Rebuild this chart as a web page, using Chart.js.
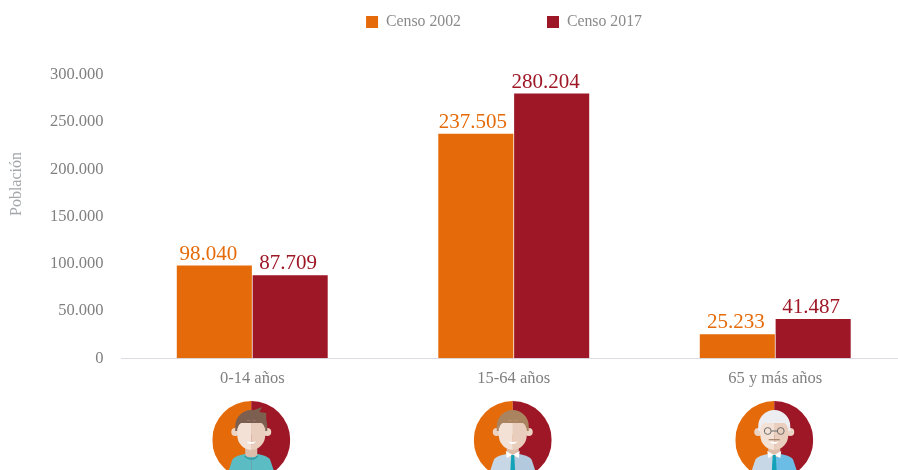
<!DOCTYPE html>
<html lang="es">
<head>
<meta charset="utf-8">
<title>Población por grupos de edad</title>
<script src="https://cdn.jsdelivr.net/npm/chart.js@4"></script>
<style>
    html, body { margin: 0; padding: 0; background: #fff; overflow: hidden; }
    #wrap { width: 898px; height: 470px; overflow: hidden; }
    canvas { display: block; }
</style>
</head>
<body>
<div id="wrap"><canvas id="barChart" width="906" height="470"></canvas></div>
<script>
const categories = ['0-14 años', '15-64 años', '65 y más años'];
const censo2002 = [98040, 237505, 25233];
const censo2017 = [87709, 280204, 41487];
const labels2002 = ['98.040', '237.505', '25.233'];
const labels2017 = ['87.709', '280.204', '41.487'];
const tickLabels = ['0', '50.000', '100.000', '150.000', '200.000', '250.000', '300.000'];

const ORANGE = '#e56b0a';
const RED = '#9e1726';
const SERIF = '"Liberation Serif", "Times New Roman", serif';

// One look per age group, same order as categories
const people = [
    { hair: '#7d5f4f', shirtL: '#5bbcc4', shirtR: '#5bbcc4', young: true },
    { hair: '#a9845f', shirtL: '#c7d7e5', shirtR: '#b2c9de' },
    { hair: '#eceef2', shirtL: '#c7d7e5', shirtR: '#6bbde6', old: true }
];

const drawPerson = (ctx, cx, cy, p) => {
    ctx.save();
    ctx.beginPath();
    ctx.arc(cx, cy, 39, 0, Math.PI * 2);
    ctx.clip();
    ctx.fillStyle = ORANGE;
    ctx.fillRect(cx - 39, cy - 39, 39, 78);
    ctx.fillStyle = RED;
    ctx.fillRect(cx, cy - 39, 39, 78);

    // shoulders
    ctx.fillStyle = p.shirtL;
    ctx.beginPath();
    ctx.moveTo(cx, cy + 13);
    ctx.quadraticCurveTo(cx - 17, cy + 15, cx - 19, cy + 20);
    ctx.lineTo(cx - 23, cy + 32);
    ctx.lineTo(cx, cy + 32);
    ctx.fill();
    ctx.fillStyle = p.shirtR;
    ctx.beginPath();
    ctx.moveTo(cx, cy + 13);
    ctx.quadraticCurveTo(cx + 17, cy + 15, cx + 19, cy + 20);
    ctx.lineTo(cx + 23, cy + 32);
    ctx.lineTo(cx, cy + 32);
    ctx.fill();

    // neck
    ctx.fillStyle = '#dcbcab';
    ctx.fillRect(cx - 6, cy + 5, 12, 12);

    if (p.young) {
        ctx.strokeStyle = '#2f9ea8';
        ctx.lineWidth = 1.5;
        ctx.beginPath();
        ctx.arc(cx, cy + 11, 8, 0.2 * Math.PI, 0.8 * Math.PI);
        ctx.stroke();
    } else {
        ctx.fillStyle = '#fff';
        ctx.beginPath();
        ctx.moveTo(cx - 7, cy + 11);
        ctx.lineTo(cx, cy + 15);
        ctx.lineTo(cx + 7, cy + 11);
        ctx.lineTo(cx + 6, cy + 18);
        ctx.lineTo(cx, cy + 15);
        ctx.lineTo(cx - 6, cy + 18);
        ctx.fill();
        ctx.fillStyle = '#12a3b8';
        ctx.beginPath();
        ctx.moveTo(cx - 1.5, cy + 15);
        ctx.lineTo(cx + 1.5, cy + 15);
        ctx.lineTo(cx + 2.5, cy + 32);
        ctx.lineTo(cx - 2.5, cy + 32);
        ctx.fill();
    }

    // ears
    ctx.fillStyle = '#ecd4c5';
    ctx.beginPath();
    ctx.arc(cx - 16, cy - 8, 4, 0, Math.PI * 2);
    ctx.arc(cx + 16, cy - 8, 4, 0, Math.PI * 2);
    ctx.fill();

    // hair cap behind the face
    ctx.fillStyle = p.hair;
    ctx.beginPath();
    ctx.ellipse(cx, cy - 14, 16, 16, 0, Math.PI, 0);
    ctx.lineTo(cx + 16, cy - 9);
    ctx.lineTo(cx - 16, cy - 9);
    ctx.fill();
    if (p.young) {
        ctx.beginPath();
        ctx.moveTo(cx - 3, cy - 28);
        ctx.lineTo(cx + 11, cy - 33);
        ctx.lineTo(cx + 8, cy - 28);
        ctx.lineTo(cx + 15, cy - 27);
        ctx.lineTo(cx + 15, cy - 15);
        ctx.fill();
    }

    // face, two tones split down the middle
    const face = (start, end, colour) => {
        ctx.fillStyle = colour;
        ctx.beginPath();
        ctx.ellipse(cx, cy - 5, 14, 15, 0, start, end);
        ctx.fill();
    };
    ctx.fillStyle = '#f3e1d5';
    ctx.fillRect(cx - 14, cy - 17, 14, 12);
    ctx.fillStyle = '#e9cdbd';
    ctx.fillRect(cx, cy - 17, 14, 12);
    face(Math.PI / 2, Math.PI * 1.5, '#f3e1d5');
    face(-Math.PI / 2, Math.PI / 2, '#e9cdbd');

    // fringe
    ctx.fillStyle = p.hair;
    ctx.beginPath();
    ctx.moveTo(cx - 14, cy - 11);
    ctx.quadraticCurveTo(cx - 12, cy - 20, cx, cy - 20);
    ctx.quadraticCurveTo(cx + 12, cy - 20, cx + 14, cy - 11);
    ctx.lineTo(cx + 15, cy - 17);
    ctx.lineTo(cx - 15, cy - 17);
    ctx.fill();

    if (p.old) {
        ctx.strokeStyle = '#6c6c6c';
        ctx.lineWidth = 1;
        ctx.beginPath();
        ctx.arc(cx - 6.5, cy - 9, 3.4, 0, Math.PI * 2);
        ctx.moveTo(cx + 9.9, cy - 9);
        ctx.arc(cx + 6.5, cy - 9, 3.4, 0, Math.PI * 2);
        ctx.moveTo(cx - 3.1, cy - 9);
        ctx.lineTo(cx + 3.1, cy - 9);
        ctx.stroke();
        ctx.fillStyle = '#a98a70';
        ctx.fillRect(cx - 5.5, cy - 1, 11, 1.3);
    }

    // smile
    ctx.fillStyle = '#fff';
    ctx.beginPath();
    ctx.moveTo(cx - 5, cy + 1.5);
    ctx.quadraticCurveTo(cx, cy + 2.5, cx + 5, cy + 1.5);
    ctx.quadraticCurveTo(cx, cy + 6.5, cx - 5, cy + 1.5);
    ctx.fill();
    ctx.restore();
};

const valueLabels = {
    id: 'valueLabels',
    afterDatasetsDraw(chart) {
        const ctx = chart.ctx;
        // the original labels are not quite centred on their bars
        const nudge = [[-6, -3, -1.5], [-2, -6, -2]];
        ctx.save();
        ctx.font = `21px ${SERIF}`;
        ctx.textAlign = 'center';
        ctx.textBaseline = 'alphabetic';
        [labels2002, labels2017].forEach((labels, i) => {
            ctx.fillStyle = i === 0 ? ORANGE : RED;
            chart.getDatasetMeta(i).data.forEach((bar, j) => {
                ctx.fillText(labels[j], bar.x + nudge[i][j], bar.y - 6);
            });
        });
        ctx.restore();
    }
};

const personIcons = {
    id: 'personIcons',
    afterDraw(chart) {
        categories.forEach((c, i) => {
            const x = chart.scales.x.getPixelForValue(i) - 1;
            drawPerson(chart.ctx, x, 440, people[i]);
        });
    }
};

// Axis title sits above the middle of the axis, the scale title option can't do that
const axisTitle = {
    id: 'axisTitle',
    afterDraw(chart) {
        const ctx = chart.ctx;
        ctx.save();
        ctx.translate(17, 184);
        ctx.rotate(-Math.PI / 2);
        ctx.font = `16px ${SERIF}`;
        ctx.fillStyle = '#a3a7ab';
        ctx.textAlign = 'center';
        ctx.textBaseline = 'middle';
        ctx.fillText('Población', 0, 0);
        ctx.restore();
    }
};

// The legend sits right of the canvas centre and higher than its box in the original
const shiftLegend = {
    id: 'shiftLegend',
    afterLayout(chart) {
        chart.legend.left += 47;
        chart.legend.right += 47;
        chart.legend.top -= 35;
    }
};

new Chart(document.getElementById('barChart').getContext('2d'), {
    type: 'bar',
    data: {
        labels: categories,
        datasets: [
            { label: 'Censo 2002', data: censo2002, backgroundColor: ORANGE },
            { label: 'Censo 2017', data: censo2017, backgroundColor: RED }
        ]
    },
    plugins: [valueLabels, personIcons, axisTitle, shiftLegend],
    options: {
        responsive: false,
        animation: false,
        layout: { padding: { left: 8, right: 0, top: -37, bottom: 78 } },
        categoryPercentage: 0.58,
        barPercentage: 0.99,
        plugins: {
            tooltip: { enabled: false },
            legend: {
                position: 'top',
                labels: {
                    boxWidth: 12,
                    boxHeight: 12,
                    padding: 86,
                    color: '#8a8a8a',
                    font: { family: SERIF, size: 15.8 }
                }
            }
        },
        scales: {
            x: {
                grid: { display: false },
                border: { color: '#dcdde8', width: 1 },
                ticks: { color: '#7f7f7f', padding: 3, font: { family: SERIF, size: 16.5 } }
            },
            y: {
                min: 0,
                max: 300000,
                afterFit(scale) { scale.width = 113.5; },
                grid: { display: false },
                border: { display: false },
                ticks: {
                    stepSize: 50000,
                    padding: 10,
                    color: '#7f7f7f',
                    font: { family: SERIF, size: 16.5 },
                    callback: (value, index) => tickLabels[index]
                }
            }
        }
    }
});
</script>
</body>
</html>
